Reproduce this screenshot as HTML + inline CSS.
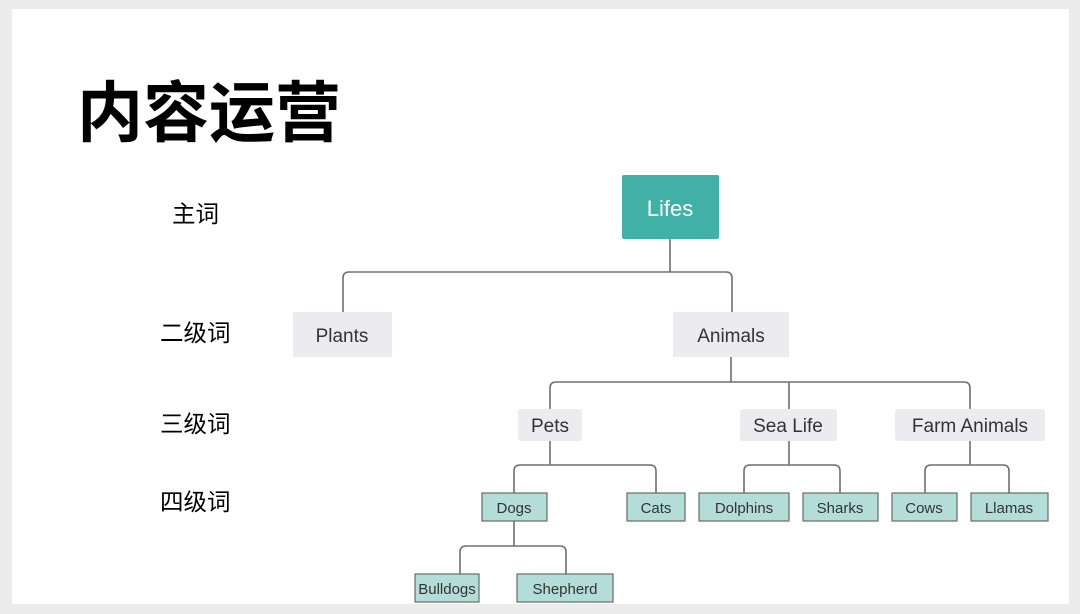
<!DOCTYPE html>
<html><head><meta charset="utf-8"><style>
html,body{margin:0;padding:0;background:#ececec;}
svg{display:block}
</style></head><body>
<svg width="1080" height="614" xmlns="http://www.w3.org/2000/svg" font-family="'Liberation Sans','Noto Sans CJK SC',sans-serif">
<rect x="0" y="0" width="1080" height="614" fill="#ececec"/>
<rect x="12" y="9" width="1057" height="595" fill="#ffffff"/>
<text x="77" y="136" font-size="66" font-weight="bold" fill="#000" font-family="'Noto Sans CJK SC',sans-serif">内容运营</text>
<g font-size="23.5" fill="#000" font-family="'Noto Sans CJK SC',sans-serif">
<text x="172" y="222">主词</text>
<text x="160" y="341">二级词</text>
<text x="160" y="432">三级词</text>
<text x="160" y="510">四级词</text>
</g>
<g fill="none" stroke="#707070" stroke-width="1.6">
<path d="M670 239V272"/>
<path d="M343 312V278Q343 272 349 272H726Q732 272 732 278V312"/>
<path d="M731 357V382"/>
<path d="M550 409V388Q550 382 556 382H964Q970 382 970 388V409"/>
<path d="M789 382V409"/>
<path d="M550 441V465"/>
<path d="M514 493V471Q514 465 520 465H650Q656 465 656 471V493"/>
<path d="M789 441V465"/>
<path d="M744 493V471Q744 465 750 465H834Q840 465 840 471V493"/>
<path d="M970 441V465"/>
<path d="M925 493V471Q925 465 931 465H1003Q1009 465 1009 471V493"/>
<path d="M514 521V546"/>
<path d="M460 574V552Q460 546 466 546H560Q566 546 566 552V574"/>
</g>
<rect x="622" y="175" width="97" height="64" rx="2" fill="#41b0a6"/>
<text x="670" y="216" font-size="22" fill="#fff" text-anchor="middle">Lifes</text>
<g fill="#ececf0">
<rect x="293" y="312" width="99" height="45"/>
<rect x="673" y="312" width="116" height="45"/>
<rect x="518" y="409" width="64" height="32" rx="3"/>
<rect x="740" y="409" width="97" height="32" rx="3"/>
<rect x="895" y="409" width="150" height="32" rx="3"/>
</g>
<g font-size="19" fill="#333" text-anchor="middle">
<text x="342" y="342">Plants</text>
<text x="731" y="342">Animals</text>
<text x="550" y="432">Pets</text>
<text x="788" y="432">Sea Life</text>
<text x="970" y="432">Farm Animals</text>
</g>
<g fill="#b2ddd8" stroke="#6a6a6a" stroke-width="1.2">
<rect x="482" y="493" width="65" height="28"/>
<rect x="627" y="493" width="58" height="28"/>
<rect x="699" y="493" width="90" height="28"/>
<rect x="803" y="493" width="75" height="28"/>
<rect x="892" y="493" width="65" height="28"/>
<rect x="971" y="493" width="77" height="28"/>
<rect x="415" y="574" width="64" height="28"/>
<rect x="517" y="574" width="96" height="28"/>
</g>
<g font-size="15" fill="#333" text-anchor="middle">
<text x="514" y="513">Dogs</text>
<text x="656" y="513">Cats</text>
<text x="744" y="513">Dolphins</text>
<text x="840" y="513">Sharks</text>
<text x="924" y="513">Cows</text>
<text x="1009" y="513">Llamas</text>
<text x="447" y="594">Bulldogs</text>
<text x="565" y="594">Shepherd</text>
</g>
</svg>
</body></html>
